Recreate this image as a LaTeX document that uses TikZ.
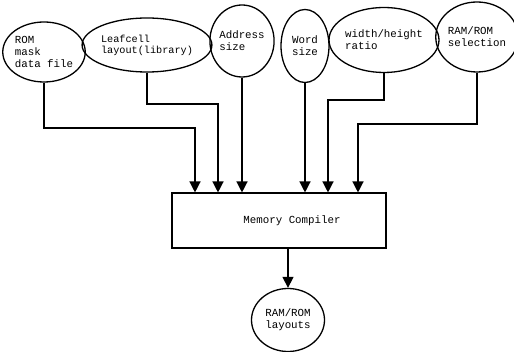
\documentclass[tikz,border=0pt]{standalone}
\usepackage{fontspec}
\newfontfamily\cour{Liberation Mono}
\usetikzlibrary{shapes.geometric,arrows.meta}
\begin{document}
\begin{tikzpicture}[x=1pt,y=-1pt,
  every node/.style={font=\cour\fontsize{10.8}{11.8}\selectfont},
  oval/.style={ellipse,draw,line width=1.3pt,inner sep=0pt,align=left},
  boxs/.style={rectangle,draw,line width=1.1pt,minimum width=214pt,minimum height=55pt},
  arr/.style={line width=1.3pt,-{Triangle[width=11pt,length=11pt]}}]
\useasboundingbox (0,0) rectangle (514,352);
\node[oval,minimum width=76pt,minimum height=60pt] (rom) at (44,52) {ROM\\mask\\data file};
\node[oval,minimum width=108pt,minimum height=54pt,font=\cour\fontsize{10.2}{10.8}\selectfont] (leaf) at (147,45) {Leafcell\\layout(library)};
\node[oval,minimum width=58pt,minimum height=72pt] (addr) at (242,41) {Address\\size};
\node[oval,minimum width=48pt,minimum height=73pt] (word) at (305,46) {Word\\size};
\node[oval,minimum width=99pt,minimum height=65pt] (wh) at (384,40) {width/height\\ratio};
\node[oval,minimum width=75pt,minimum height=70pt] (sel) at (477,37) {RAM/ROM\\selection};
\node[boxs,label={[xshift=13pt,font=\cour\fontsize{10.8}{12}\selectfont]center:Memory Compiler}] (box) at (279,220.5) {};
\node[oval,minimum width=73pt,minimum height=63pt] (out) at (288,320) {RAM/ROM\\layouts};
\coordinate (c1) at (195,128);
\coordinate (c2) at (218,104);
\coordinate (c5) at (328,100);
\coordinate (c6) at (358,124);
\draw[arr] (rom.south) |- (c1) -- (c1 |- box.north);
\draw[arr] (leaf.south) |- (c2) -- (c2 |- box.north);
\draw[arr] (addr.south) -- (addr.south |- box.north);
\draw[arr] (word.south) -- (word.south |- box.north);
\draw[arr] (wh.south) |- (c5) -- (c5 |- box.north);
\draw[arr] (sel.south) |- (c6) -- (c6 |- box.north);
\draw[arr] (box.south -| out.north) -- (out.north);
\end{tikzpicture}
\end{document}
